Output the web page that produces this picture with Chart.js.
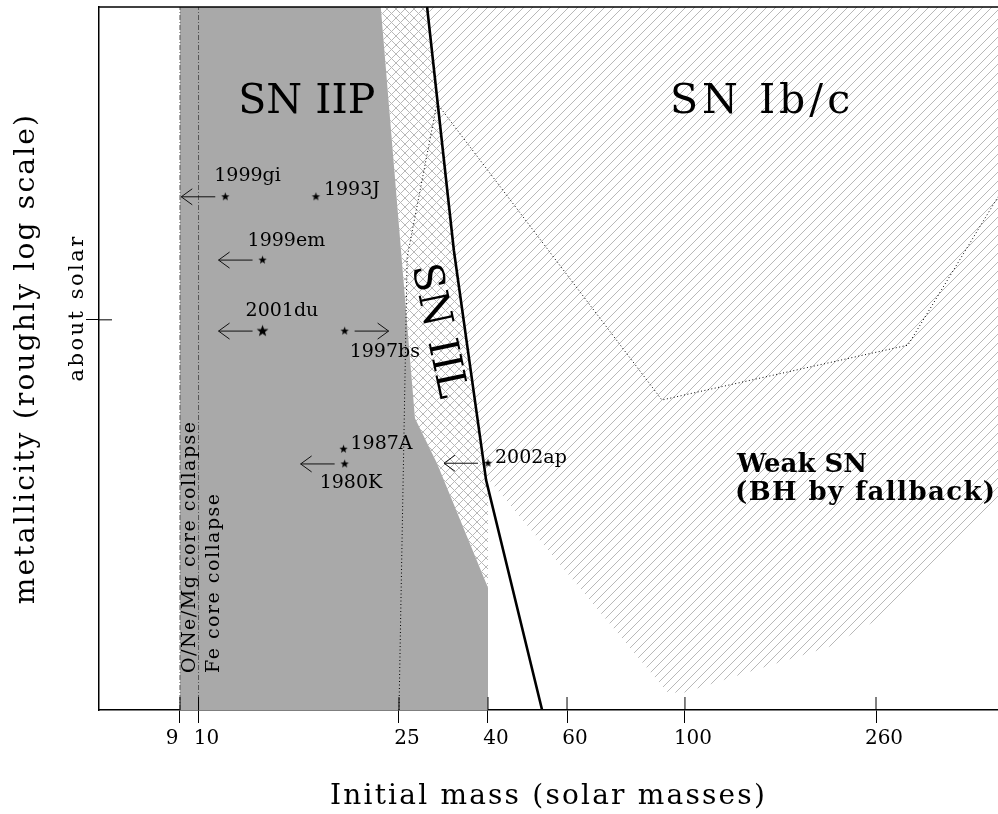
<!DOCTYPE html>
<html>
<head>
<meta charset="utf-8">
<script src="https://cdn.jsdelivr.net/npm/chart.js@4.4.1/dist/chart.umd.min.js"></script>
<style>
  body { margin: 0; background: #fff; }
  canvas { display: block; }
</style>
</head>
<body>
<canvas id="myChart" width="998" height="814"></canvas>
<script>
// x axis (initial mass, solar masses)
const tickMasses = [9, 10, 25, 40, 60, 100, 260];
const tickLabels = ['9', '10', '25', '40', '60', '100', '260'];
// y axis is schematic metallicity, 0 (bottom) .. 100 (top)
const solarZ = 55.5;

// SN IIP region (grey)
const iipMass = [9, 9, 23.0, 27.2, 30.55, 40, 40];
const iipZ = [0, 100, 100, 41.5, 35.1, 17.4, 0];
// SN IIL region (cross hatched)
const iilMass = [23.0, 27.2, 30.55, 40, 40, 39.6, 33.4, 29.0];
const iilZ = [100, 41.5, 35.1, 17.4, 30.7, 32.7, 65.4, 100];
// SN Ib/c + weak SN region (hatched)
const ibcMass = [29.0, 33.4, 39.4, 92.5, 98.7, 142, 206, 255, 431, 478.6, 478.6];
const ibcZ = [100, 65.4, 33.4, 2.6, 2.4, 5.7, 9.0, 12.4, 26.6, 29.9, 100];
// thick boundary line
const edgeMass = [29.0, 33.4, 39.6, 52.8];
const edgeZ = [100, 65.4, 32.7, 0];
// dotted line
const dotMass = [25, 26.1, 30.55, 90.5, 305, 478.6];
const dotZ = [0, 64.4, 86.3, 44.1, 51.9, 73.0];
// core collapse limits (dash-dot)
const ccMass = [9, 10];

// supernovae
const snNames = ['1999gi', '1993J', '1999em', '2001du', '1997bs', '1987A', '1980K', '2002ap'];
const snMass = [11.3, 17.1, 13.4, 13.4, 19.5, 19.4, 19.5, 40];
const snZ = [73.0, 73.0, 64.0, 53.9, 53.9, 37.1, 35.0, 35.1];
const snLimit = [-1, 0, -1, -1, 1, 0, -1, -1]; // -1 upper limit, +1 lower limit

// label placement (pixels from star: text left, text middle)
const snLabelOffset = [[-11, -21], [8, -7], [-15, -19], [-17, -20], [5, 21], [7, -5], [-25, 19], [7, -5]];

// the mass axis is stretched by hand, roughly logarithmic
const axisMass = [5.67, 9, 10, 25, 40, 60, 100, 260, 478.6];
const axisFrac = [0, 0.0901, 0.1107, 0.3337, 0.4327, 0.5206, 0.6518, 0.8643, 1];
const axisLog = axisMass.map(Math.log10);

function massToFrac(m) {
  const l = Math.log10(m);
  let i = 0;
  while (i < axisLog.length - 2 && l > axisLog[i + 1]) i++;
  return axisFrac[i] + (l - axisLog[i]) / (axisLog[i + 1] - axisLog[i]) * (axisFrac[i + 1] - axisFrac[i]);
}
function fracToMass(f) {
  let i = 0;
  while (i < axisFrac.length - 2 && f > axisFrac[i + 1]) i++;
  const l = axisLog[i] + (f - axisFrac[i]) / (axisFrac[i + 1] - axisFrac[i]) * (axisLog[i + 1] - axisLog[i]);
  return Math.pow(10, l);
}

// wider title lettering, like the plotting font of the original
function spacedTitle(scale) {
  scale.ctx.save();
  scale.ctx.letterSpacing = '2.2px';
  Chart.LinearScale.prototype.drawTitle.call(scale);
  scale.ctx.restore();
}

class MassScale extends Chart.LinearScale {
  getPixelForValue(value) {
    return this.getPixelForDecimal(massToFrac(value));
  }
  getValueForPixel(pixel) {
    return fracToMass(this.getDecimalForPixel(pixel));
  }
  drawTitle() { spacedTitle(this); }
}
MassScale.id = 'mass';
MassScale.defaults = Chart.LinearScale.defaults;

class MetalScale extends Chart.LinearScale {
  drawTitle() { spacedTitle(this); }
}
MetalScale.id = 'metal';
MetalScale.defaults = Chart.LinearScale.defaults;

Chart.register(MassScale, MetalScale);

const pts = (xs, ys) => xs.map((v, i) => ({x: v, y: ys[i]}));

const canvas = document.getElementById('myChart');
const ctx0 = canvas.getContext('2d');

function hatch(cross) {
  const s = 9;
  const c = document.createElement('canvas');
  c.width = c.height = s;
  const g = c.getContext('2d');
  g.fillStyle = '#b8b8b8';
  for (let i = 0; i < s; i++) {
    g.fillRect(i, s - 1 - i, 1, 1);
    if (cross) g.fillRect(i, i, 1, 1);
  }
  return ctx0.createPattern(c, 'repeat');
}

function starImage(r) {
  const s = Math.ceil(r * 2 + 2);
  const c = document.createElement('canvas');
  c.width = c.height = s;
  const g = c.getContext('2d');
  g.translate(s / 2, s / 2);
  g.beginPath();
  for (let i = 0; i < 10; i++) {
    const rr = i % 2 ? r * 0.42 : r;
    const a = -Math.PI / 2 + i * Math.PI / 5;
    g.lineTo(rr * Math.cos(a), rr * Math.sin(a));
  }
  g.closePath();
  g.fillStyle = '#000';
  g.fill();
  return c;
}
const smallStar = starImage(4.4);
const bigStar = starImage(6.2);

const serif = 'DejaVu Serif';

function drawText(ctx, str, x, y, o) {
  ctx.save();
  ctx.translate(x, y);
  if (o.rotate) ctx.rotate(o.rotate);
  ctx.font = o.font;
  ctx.fillStyle = '#000';
  ctx.textAlign = o.align || 'left';
  ctx.textBaseline = o.baseline || 'alphabetic';
  ctx.letterSpacing = o.spacing || '0px';
  ctx.fillText(str, 0, 0);
  ctx.restore();
}

const decor = {
  id: 'decor',
  afterDatasetsDraw(chart) {
    const {ctx, chartArea: a, scales: {x, y}} = chart;
    ctx.save();
    ctx.strokeStyle = '#000';
    // frame top
    ctx.lineWidth = 1.5;
    ctx.beginPath();
    ctx.moveTo(a.left - 0.75, a.top);
    ctx.lineTo(a.right, a.top);
    ctx.stroke();
    // inside part of the tick marks
    ctx.lineWidth = 1;
    ctx.beginPath();
    x.ticks.forEach(t => {
      const px = x.getPixelForValue(t.value);
      ctx.moveTo(px, a.bottom);
      ctx.lineTo(px, a.bottom - 13);
    });
    y.ticks.forEach(t => {
      const py = y.getPixelForValue(t.value);
      ctx.moveTo(a.left, py);
      ctx.lineTo(a.left + 13, py);
    });
    ctx.stroke();

    // limit arrows
    ctx.strokeStyle = '#111';
    ctx.lineWidth = 1;
    snLimit.forEach((d, i) => {
      if (!d) return;
      const px = x.getPixelForValue(snMass[i]);
      const py = y.getPixelForValue(snZ[i]);
      const x0 = px + d * 10, x1 = px + d * 44;
      ctx.beginPath();
      ctx.moveTo(x0, py);
      ctx.lineTo(x1, py);
      ctx.moveTo(x1 - d * 11, py - 8);
      ctx.lineTo(x1, py);
      ctx.lineTo(x1 - d * 11, py + 8);
      ctx.stroke();
    });

    // supernova names
    snNames.forEach((n, i) => {
      const px = x.getPixelForValue(snMass[i]);
      const py = y.getPixelForValue(snZ[i]);
      drawText(ctx, n, px + snLabelOffset[i][0], py + snLabelOffset[i][1],
        {font: '19px ' + serif, baseline: 'middle'});
    });

    // region names
    drawText(ctx, 'SN IIP', x.getPixelForValue(16.4), y.getPixelForValue(84.9),
      {font: '41px ' + serif, align: 'center'});
    drawText(ctx, 'SN Ib/c', x.getPixelForValue(147), y.getPixelForValue(84.9),
      {font: '41px ' + serif, align: 'center', spacing: '4px'});
    drawText(ctx, 'SN IIL', x.getPixelForValue(30.55), y.getPixelForValue(53.9),
      {font: '41px ' + serif, align: 'center', baseline: 'middle', rotate: 78 * Math.PI / 180});
    const wx = x.getPixelForValue(129.7), wy = y.getPixelForValue(33.86);
    drawText(ctx, 'Weak SN', wx, wy, {font: 'bold 26px ' + serif});
    drawText(ctx, '(BH by fallback)', wx - 2, wy + 28, {font: 'bold 26px ' + serif, spacing: '1.4px'});

    // core collapse labels along the dash-dot lines
    drawText(ctx, 'O/Ne/Mg core collapse', x.getPixelForValue(ccMass[0]) + 15, a.bottom - 37,
      {font: '19px ' + serif, rotate: -Math.PI / 2, spacing: '1.5px'});
    drawText(ctx, 'Fe core collapse', x.getPixelForValue(ccMass[1]) + 20, a.bottom - 37,
      {font: '19px ' + serif, rotate: -Math.PI / 2, spacing: '1.5px'});

    // y tick label
    drawText(ctx, 'about solar', a.left - 16, y.getPixelForValue(solarZ) - 12,
      {font: '21px ' + serif, align: 'center', rotate: -Math.PI / 2, spacing: '2.5px'});
    ctx.restore();
  }
};

const data = {
  datasets: [
    {
      label: 'SN Ib/c',
      data: pts(ibcMass, ibcZ),
      showLine: true, fill: 'shape',
      backgroundColor: hatch(false),
      borderColor: 'rgba(0,0,0,0)', borderWidth: 0,
      pointRadius: 0, order: 10
    },
    {
      label: 'SN IIL',
      data: pts(iilMass, iilZ),
      showLine: true, fill: 'shape',
      backgroundColor: hatch(true),
      borderColor: 'rgba(0,0,0,0)', borderWidth: 0,
      pointRadius: 0, order: 9
    },
    {
      label: 'SN IIP',
      data: pts(iipMass, iipZ),
      showLine: true, fill: 'shape',
      backgroundColor: '#a9a9a9',
      borderColor: 'rgba(0,0,0,0)', borderWidth: 0,
      pointRadius: 0, order: 8
    },
    {
      label: 'O/Ne/Mg',
      data: pts([ccMass[0], ccMass[0]], [0, 100]),
      showLine: true, borderColor: '#555', borderWidth: 1,
      borderDash: [5, 2, 1, 2], pointRadius: 0, order: 6
    },
    {
      label: 'Fe',
      data: pts([ccMass[1], ccMass[1]], [0, 100]),
      showLine: true, borderColor: '#555', borderWidth: 1,
      borderDash: [5, 2, 1, 2], pointRadius: 0, order: 6
    },
    {
      label: 'dotted',
      data: pts(dotMass, dotZ),
      showLine: true, borderColor: '#000', borderWidth: 1,
      borderDash: [1, 2.5], pointRadius: 0, order: 5
    },
    {
      label: 'boundary',
      data: pts(edgeMass, edgeZ),
      showLine: true, borderColor: '#000', borderWidth: 2.6,
      pointRadius: 0, order: 4
    },
    {
      label: 'supernovae',
      data: pts(snMass, snZ),
      pointStyle: snNames.map(n => n === '2001du' ? bigStar : smallStar),
      pointRadius: 4, order: 1
    }
  ]
};

const config = {
  type: 'scatter',
  data: data,
  options: {
    responsive: false,
    animation: false,
    devicePixelRatio: 1,
    layout: { autoPadding: false, padding: { top: 7, right: 0, left: 0, bottom: 0 } },
    plugins: { legend: { display: false }, tooltip: { enabled: false } },
    scales: {
      x: {
        type: 'mass',
        min: 5.67, max: 478.6,
        afterBuildTicks: s => { s.ticks = tickMasses.map(v => ({value: v})); },
        afterFit: s => { s.height = 104; s.paddingLeft = 0; s.paddingRight = 0; },
        ticks: {
          autoSkip: false, maxRotation: 0, padding: 4, labelOffset: 8,
          color: '#000', font: { family: serif, size: 20 },
          callback: (v, i) => i === 0 ? tickLabels[i] + '     ' : tickLabels[i]
        },
        grid: { drawOnChartArea: false, tickLength: 13, color: '#000', lineWidth: 1 },
        border: { color: '#000', width: 1.5 },
        title: {
          display: true, text: 'Initial mass (solar masses)', color: '#000',
          font: { family: serif, size: 28 }, padding: { top: 0, bottom: 0 }
        }
      },
      y: {
        type: 'metal',
        min: 0, max: 100,
        afterBuildTicks: s => { s.ticks = [{value: solarZ}]; },
        afterFit: s => { s.width = 99; s.paddingTop = 0; s.paddingBottom = 0; },
        ticks: { display: false },
        grid: { drawOnChartArea: false, tickLength: 13, color: '#000', lineWidth: 1 },
        border: { color: '#000', width: 1.5 },
        title: {
          display: true, text: 'metallicity (roughly log scale)', color: '#000',
          font: { family: serif, size: 28 }, padding: { top: 10, bottom: 0 }
        }
      }
    }
  },
  plugins: [decor]
};

// Render the chart
const myChart = new Chart(canvas, config);
</script>
</body>
</html>
